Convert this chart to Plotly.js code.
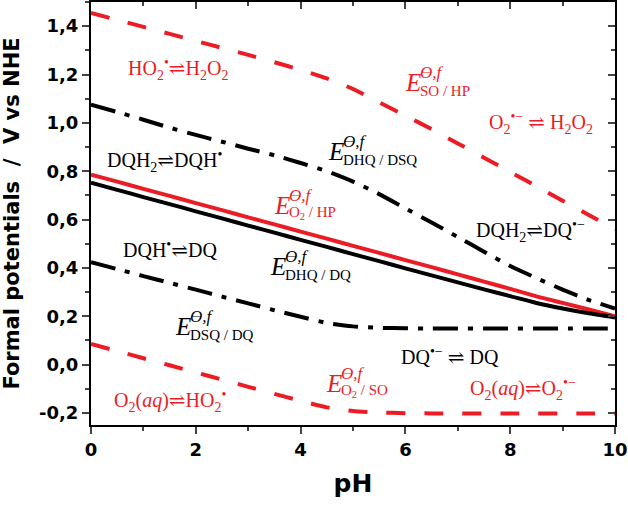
<!DOCTYPE html>
<html>
<head>
<meta charset="utf-8">
<script src="https://cdn.plot.ly/plotly-3.0.1.min.js"></script>
<style>
  body { margin: 0; background: #fff; }
  #myDiv { width: 628px; height: 506px; }
</style>
</head>
<body>
<div id="myDiv"></div>
<script>
var pH = [0, 0.5, 1, 1.5, 2, 2.5, 3, 3.5, 4, 4.5, 5, 5.5, 6, 6.5, 7, 7.5, 8, 8.5, 9, 9.5, 10];

var eSoHp   = [1.455, 1.426, 1.397, 1.368, 1.339, 1.310, 1.281, 1.251, 1.219, 1.184, 1.140, 1.085, 1.030, 0.974, 0.915, 0.856, 0.797, 0.738, 0.678, 0.619, 0.560];
var eDhqDsq = [1.075, 1.045, 1.013, 0.980, 0.950, 0.922, 0.893, 0.866, 0.834, 0.800, 0.757, 0.705, 0.646, 0.588, 0.528, 0.467, 0.408, 0.358, 0.310, 0.267, 0.232];
var eO2Hp   = [0.786, 0.757, 0.727, 0.698, 0.668, 0.639, 0.609, 0.580, 0.550, 0.521, 0.491, 0.462, 0.432, 0.403, 0.373, 0.343, 0.313, 0.282, 0.255, 0.228, 0.200];
var eDhqDq  = [0.752, 0.723, 0.693, 0.664, 0.634, 0.605, 0.575, 0.546, 0.516, 0.487, 0.457, 0.428, 0.398, 0.369, 0.340, 0.311, 0.283, 0.255, 0.232, 0.212, 0.195];
var eDsqDq  = [0.424, 0.395, 0.366, 0.338, 0.310, 0.281, 0.253, 0.225, 0.198, 0.172, 0.158, 0.152, 0.150, 0.149, 0.149, 0.149, 0.149, 0.149, 0.149, 0.149, 0.149];
var eO2So   = [0.085, 0.056, 0.026, -0.003, -0.033, -0.062, -0.092, -0.121, -0.150, -0.177, -0.192, -0.198, -0.201, -0.202, -0.202, -0.202, -0.202, -0.202, -0.202, -0.202, -0.202];

var yTickVals = [-0.2, 0, 0.2, 0.4, 0.6, 0.8, 1.0, 1.2, 1.4];
var yTickText = ['-0,2', '0,0', '0,2', '0,4', '0,6', '0,8', '1,0', '1,2', '1,4'];

var red = '#ec1c24';
var dashRed = '19px,19px';
var dashDot = '25px,10px,5px,10px';

function line(y, color, dash) {
  return {
    x: pH, y: y, type: 'scatter', mode: 'lines',
    line: { color: color, width: 4, dash: dash, shape: 'spline', smoothing: 0.6 },
    showlegend: false, hoverinfo: 'skip'
  };
}

var data = [
  line(eSoHp, red, dashRed),
  line(eDhqDsq, '#000', dashDot),
  line(eO2Hp, red, 'solid'),
  line(eDhqDq, '#000', 'solid'),
  line(eDsqDq, '#000', dashDot),
  line(eO2So, red, dashRed),
  { x: [], y: [], xaxis: 'x2', yaxis: 'y2', showlegend: false }
];

var serif = 'Liberation Serif, DejaVu Serif, serif';
var sans = 'DejaVu Sans, Liberation Sans, sans-serif';
var ann = [];

function label(text, x, y, color) {
  ann.push({ text: text, x: x, y: y, xref: 'x', yref: 'y', showarrow: false,
    xanchor: 'center', yanchor: 'middle', font: { family: serif, size: 20, color: color } });
}

function eLabel(sub, x, y, color) {
  ann.push({ text: '<i>E</i>', x: x, y: y, xref: 'x', yref: 'y', showarrow: false,
    xanchor: 'left', yanchor: 'middle', font: { family: serif, size: 25, color: color } });
  ann.push({ text: '<i>ϴ,f</i>', x: x, y: y, xref: 'x', yref: 'y', showarrow: false,
    xanchor: 'left', yanchor: 'middle', xshift: 15, yshift: 10, font: { family: serif, size: 17, color: color } });
  ann.push({ text: sub, x: x, y: y, xref: 'x', yref: 'y', showarrow: false,
    xanchor: 'left', yanchor: 'middle', xshift: 15, yshift: -8, font: { family: serif, size: 15, color: color } });
}

label('HO<sub>2</sub><sup>•</sup>⇌H<sub>2</sub>O<sub>2</sub>', 1.66, 1.222, red);
label('O<sub>2</sub><sup>•−</sup> ⇌ H<sub>2</sub>O<sub>2</sub>', 8.58, 1.0, red);
label('DQH<sub>2</sub>⇌DQH<sup>•</sup>', 1.41, 0.843, '#000');
label('DQH<sub>2</sub>⇌DQ<sup>•−</sup>', 8.39, 0.553, '#000');
label('DQH<sup>•</sup>⇌DQ', 1.5, 0.479, '#000');
label('DQ<sup>•−</sup> ⇌ DQ', 6.85, 0.037, '#000');
label('O<sub>2</sub>(<i>aq</i>)⇌HO<sub>2</sub><sup>•</sup>', 1.5, -0.149, red);
label('O<sub>2</sub>(<i>aq</i>)⇌O<sub>2</sub><sup>•−</sup>', 8.25, -0.099, red);

eLabel('SO / HP', 5.95, 1.165, red);
eLabel('DHQ / DSQ', 4.49, 0.88, '#000');
eLabel('O<sub>2</sub> / HP', 3.46, 0.66, red);
eLabel('DHQ / DQ', 3.37, 0.405, '#000');
eLabel('DSQ / DQ', 1.56, 0.157, '#000');
eLabel('O<sub>2</sub> / SO', 4.45, -0.078, red);

var tickFont = { family: sans, size: 18, weight: 'bold', color: '#000' };

var layout = {
  width: 628, height: 506,
  margin: { l: 91, r: 13, t: 2, b: 81 },
  paper_bgcolor: '#fff', plot_bgcolor: '#fff',
  xaxis: {
    range: [0, 10], dtick: 2, tick0: 0, ticks: 'outside', ticklen: 7, tickwidth: 2,
    minor: { dtick: 1, ticks: 'outside', ticklen: 4, tickwidth: 2 },
    showline: true, linewidth: 2, linecolor: '#000', showgrid: false, zeroline: false,
    tickfont: tickFont, automargin: false, ticklabeloverflow: 'allow',
    title: { text: 'pH', standoff: 16, font: { family: sans, size: 25, weight: 'bold', color: '#000' } }
  },
  yaxis: {
    range: [-0.25, 1.5], tickvals: yTickVals, ticktext: yTickText, ticks: 'outside', ticklen: 7, tickwidth: 2,
    minor: { dtick: 0.1, tick0: 0, ticks: 'outside', ticklen: 4, tickwidth: 2 },
    showline: true, linewidth: 2, linecolor: '#000', showgrid: false, zeroline: false,
    tickfont: tickFont, automargin: false, ticklabeloverflow: 'allow',
    title: { text: 'Formal potentials  /  V vs NHE', standoff: 14, font: { family: sans, size: 21, weight: 'bold', color: '#000' } }
  },
  xaxis2: {
    overlaying: 'x', side: 'top', anchor: 'y2', range: [0, 10], dtick: 2, ticks: 'inside', ticklen: 7, tickwidth: 2,
    minor: { dtick: 1, ticks: 'inside', ticklen: 4, tickwidth: 2 },
    showline: true, linewidth: 2, linecolor: '#000', showgrid: false, zeroline: false, showticklabels: false
  },
  yaxis2: {
    overlaying: 'y', side: 'right', anchor: 'x2', range: [-0.25, 1.5], tickvals: yTickVals, ticks: 'inside', ticklen: 7, tickwidth: 2,
    minor: { dtick: 0.1, tick0: 0, ticks: 'inside', ticklen: 4, tickwidth: 2 },
    showline: true, linewidth: 2, linecolor: '#000', showgrid: false, zeroline: false, showticklabels: false
  },
  annotations: ann
};

Plotly.newPlot('myDiv', data, layout, { staticPlot: true });
</script>
</body>
</html>
